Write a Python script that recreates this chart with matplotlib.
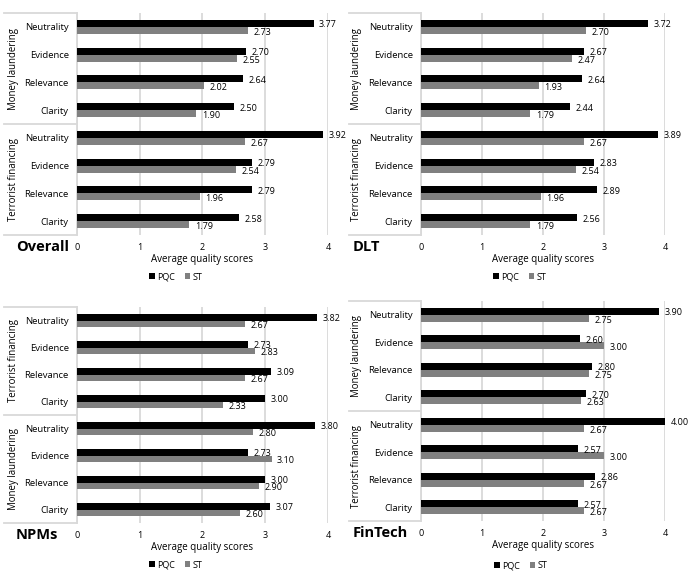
import matplotlib
matplotlib.use("Agg")
import matplotlib.pyplot as plt
from matplotlib.patches import Patch
from matplotlib.transforms import blended_transform_factory

plt.rcParams['font.family'] = ['Open Sans', 'DejaVu Sans']

categories = ["Neutrality", "Evidence", "Relevance", "Clarity"]
series_names = ["PQC", "ST"]
tick_labels = ["0", "1", "2", "3", "4"]

# Overall
overall_groups = ["Money laundering", "Terrorist financing"]
overall_pqc = [3.77, 2.70, 2.64, 2.50, 3.92, 2.79, 2.79, 2.58]
overall_st = [2.73, 2.55, 2.02, 1.90, 2.67, 2.54, 1.96, 1.79]

# DLT
dlt_groups = ["Money laundering", "Terrorist financing"]
dlt_pqc = [3.72, 2.67, 2.64, 2.44, 3.89, 2.83, 2.89, 2.56]
dlt_st = [2.70, 2.47, 1.93, 1.79, 2.67, 2.54, 1.96, 1.79]

# NPMs
npms_groups = ["Terrorist financing", "Money laundering"]
npms_pqc = [3.82, 2.73, 3.09, 3.00, 3.80, 2.73, 3.00, 3.07]
npms_st = [2.67, 2.83, 2.67, 2.33, 2.80, 3.10, 2.90, 2.60]

# FinTech
fintech_groups = ["Money laundering", "Terrorist financing"]
fintech_pqc = [3.90, 2.60, 2.80, 2.70, 4.00, 2.57, 2.86, 2.57]
fintech_st = [2.75, 3.00, 2.75, 2.63, 2.67, 3.00, 2.67, 2.67]

W, H = 690, 576
fig = plt.figure(figsize=(W / 100, H / 100), dpi=100)

PQC_COLOR = "#000000"
ST_COLOR = "#808080"
GRID = "#d9d9d9"


def panel(rect_px, title, groups, pqc, st, box_left_px, group_x_px, title_x_px,
          legend_center_px, legend_y_px):
    l, t, r, b = rect_px
    ax = fig.add_axes([l / W, 1 - b / H, (r - l) / W, (b - t) / H])
    n = len(pqc)
    ys = [n - 1 - i for i in range(n)]
    bh = 0.25
    ax.barh([y + bh / 2 for y in ys], pqc, height=bh, color=PQC_COLOR, zorder=3)
    ax.barh([y - bh / 2 for y in ys], st, height=bh, color=ST_COLOR, zorder=3)
    for y, v in zip(ys, pqc):
        ax.annotate(f"{v:.2f}", (v, y + bh / 2), xytext=(4, -1), textcoords="offset points",
                    ha="left", va="center", fontsize=6.5, clip_on=False, annotation_clip=False)
    for y, v in zip(ys, st):
        ax.annotate(f"{v:.2f}", (v, y - bh / 2), xytext=(4, -1.5), textcoords="offset points",
                    ha="left", va="center", fontsize=6.5, clip_on=False, annotation_clip=False)
    ax.set_xlim(0, 4)
    ax.set_ylim(-0.5, n - 0.5)
    ax.set_xticks(range(5))
    ax.set_xticklabels(tick_labels, fontsize=6.5)
    ax.set_yticks(ys)
    ax.set_yticklabels(categories * 2, fontsize=6.8)
    ax.tick_params(axis="both", length=0)
    ax.tick_params(axis="x", pad=6)
    ax.tick_params(axis="y", pad=6)
    ax.xaxis.grid(True, color=GRID, lw=1.3, zorder=0)
    ax.set_axisbelow(True)
    for s in ["top", "right", "bottom"]:
        ax.spines[s].set_visible(False)
    ax.spines["left"].set_color(GRID)
    ax.spines["left"].set_linewidth(1.3)
    ax.set_xlabel("Average quality scores", fontsize=7, labelpad=1)

    # group box lines
    axw = r - l
    x0 = (box_left_px - l) / axw
    tr = blended_transform_factory(ax.transAxes, ax.transData)
    for yy in [-0.5, 3.5, 7.5]:
        ax.plot([x0, 0], [yy, yy], color=GRID, lw=1.3, transform=tr, clip_on=False)
    gx = (group_x_px - l) / axw
    ax.text(gx, 5.5, groups[0], rotation=90, ha="center", va="center", fontsize=6.9,
            transform=tr)
    ax.text(gx, 1.5, groups[1], rotation=90, ha="center", va="center", fontsize=6.9,
            transform=tr)

    # title
    tick_y = b + 12
    fig.text(title_x_px / W, 1 - tick_y / H, title, fontsize=10.5, fontweight="bold",
             ha="left", va="center")

    handles = [Patch(facecolor=PQC_COLOR), Patch(facecolor=ST_COLOR)]
    fig.legend(handles, series_names, loc="center",
               bbox_to_anchor=(legend_center_px / W, 1 - legend_y_px / H),
               ncol=2, frameon=False, fontsize=6.5, handlelength=0.6, handleheight=0.6,
               handletextpad=0.3, columnspacing=1.0, borderpad=0, borderaxespad=0)
    return ax


panel((77, 13, 328, 235), "Overall", overall_groups, overall_pqc, overall_st,
      4, 13, 16, 176, 277)
panel((421, 13, 665, 235), "DLT", dlt_groups, dlt_pqc, dlt_st,
      349, 357, 353, 520, 277)
panel((77, 307, 328, 523), "NPMs", npms_groups, npms_pqc, npms_st,
      4, 13, 16, 176, 565)
panel((421, 301, 665, 521), "FinTech", fintech_groups, fintech_pqc, fintech_st,
      349, 357, 353, 521, 566)

fig.savefig("out.png", dpi=100, facecolor="white")
